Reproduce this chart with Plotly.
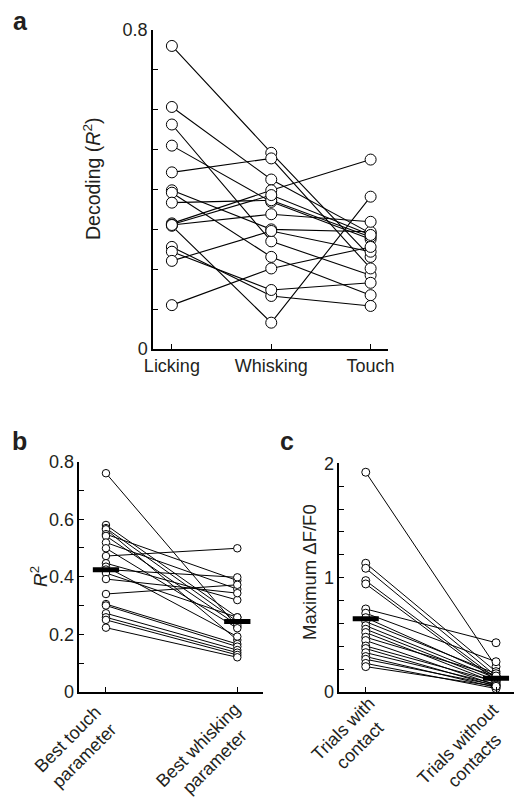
import plotly.graph_objects as go

# ---------------- data ----------------
# Panel a: decoding R^2 per cell (Licking -> Whisking -> Touch)
a_categories = ["Licking", "Whisking", "Touch"]
a_licking = [0.760, 0.607, 0.563, 0.510, 0.443, 0.398, 0.392, 0.367,
             0.315, 0.312, 0.309, 0.311, 0.256, 0.244, 0.221, 0.110]
a_whisking = [0.492, 0.425, 0.270, 0.369, 0.478, 0.300, 0.231, 0.373,
              0.398, 0.386, 0.066, 0.338, 0.133, 0.148, 0.296, 0.202]
a_touch = [0.231, 0.290, 0.185, 0.275, 0.202, 0.294, 0.135, 0.281,
           0.475, 0.286, 0.382, 0.319, 0.108, 0.166, 0.244, 0.256]

# Panel b: R^2 of best touch vs best whisking parameter
b_categories = ["Best touch<br>parameter", "Best whisking<br>parameter"]
b_touch = [0.760, 0.580, 0.569, 0.565, 0.548, 0.542, 0.519, 0.499, 0.472,
           0.447, 0.435, 0.425, 0.413, 0.392, 0.340, 0.305, 0.300, 0.273,
           0.259, 0.250, 0.223]
b_whisking = [0.226, 0.259, 0.244, 0.180, 0.387, 0.232, 0.357, 0.221, 0.499,
              0.319, 0.192, 0.398, 0.259, 0.343, 0.372, 0.166, 0.157, 0.145,
              0.136, 0.128, 0.120]
b_means = [0.424, 0.244]

# Panel c: maximum dF/F0 with vs without contacts
c_categories = ["Trials with<br>contact", "Trials without<br>contacts"]
c_with = [1.922, 1.126, 1.082, 0.974, 0.945, 0.726, 0.689, 0.650, 0.615,
          0.580, 0.549, 0.520, 0.479, 0.450, 0.402, 0.380, 0.344, 0.310,
          0.286, 0.250, 0.222]
c_without = [0.221, 0.178, 0.140, 0.120, 0.100, 0.431, 0.265, 0.140, 0.160,
             0.120, 0.100, 0.080, 0.140, 0.060, 0.090, 0.050, 0.070, 0.040,
             0.060, 0.030, 0.050]
c_means = [0.64, 0.12]

# tick values / labels
a_ytickvals = [0, 0.8]
a_yticktext = ["0", "0.8"]
a_yminor = [0.1, 0.2, 0.3, 0.4, 0.5, 0.6, 0.7]
b_ytickvals = [0, 0.2, 0.4, 0.6, 0.8]
b_yticktext = ["0", "0.2", "0.4", "0.6", "0.8"]
b_yminor = [0.1, 0.3, 0.5, 0.7]
c_ytickvals = [0, 1, 2]
c_yticktext = ["0", "1", "2"]
c_yminor = [0.2, 0.4, 0.6, 0.8, 1.2, 1.4, 1.6, 1.8]

# ---------------- figure ----------------
W, H = 514, 801
FONT = "Liberation Sans, Arial, sans-serif"
TXT = "#231f20"
TICK_SIZE = 18

fig = go.Figure()


def add_panel(series, xref, yref, msize, lw, means=None, bar_half=0.1):
    n = len(series[0])
    xs = list(range(1, len(series) + 1))
    for i in range(n):
        fig.add_trace(go.Scatter(
            x=xs, y=[s[i] for s in series], mode="lines",
            line=dict(color="black", width=lw), xaxis=xref, yaxis=yref,
            hoverinfo="skip", cliponaxis=False))
    for j, s in enumerate(series):
        fig.add_trace(go.Scatter(
            x=[j + 1] * len(s), y=s, mode="markers",
            marker=dict(size=msize, color="white",
                        line=dict(color="black", width=1)),
            xaxis=xref, yaxis=yref, cliponaxis=False))
    if means is not None:
        for j, m in enumerate(means):
            fig.add_trace(go.Scatter(
                x=[j + 1 - bar_half, j + 1 + bar_half], y=[m, m],
                mode="lines", line=dict(color="black", width=5),
                xaxis=xref, yaxis=yref, cliponaxis=False))


add_panel([a_licking, a_whisking, a_touch], "x", "y", 11, 1.1)
add_panel([b_touch, b_whisking], "x2", "y2", 7.5, 1, b_means, 0.1)
add_panel([c_with, c_without], "x3", "y3", 8, 1, c_means, 0.1)


def px_x(p):
    return p / W


def px_y(p):
    return 1 - p / H


axis_common = dict(showline=True, linecolor="black", linewidth=1.5,
                   ticks="inside", ticklen=5, tickcolor="black",
                   showgrid=False, zeroline=False, automargin=False,
                   ticklabeloverflow="allow",
                   tickfont=dict(family=FONT, size=TICK_SIZE, color=TXT))


def minor(vals):
    return dict(tickvals=vals, ticks="inside", ticklen=5, tickcolor="black",
                showgrid=False)


fig.update_layout(
    template="none",
    width=W, height=H, margin=dict(l=0, r=0, t=0, b=0, pad=0),
    paper_bgcolor="white", plot_bgcolor="white", showlegend=False,
    font=dict(family=FONT, color=TXT, size=TICK_SIZE),
    xaxis=dict(axis_common, domain=[px_x(153), px_x(388)], range=[0.81, 3.175],
               tickvals=[1, 2, 3], ticktext=a_categories, anchor="y"),
    yaxis=dict(axis_common, domain=[px_y(349), px_y(30)], range=[0, 0.8],
               tickvals=a_ytickvals, ticktext=a_yticktext, minor=minor(a_yminor),
               anchor="x"),
    xaxis2=dict(axis_common, domain=[px_x(79.3), px_x(263.3)], range=[0.797, 2.198],
                tickvals=[1, 2], showticklabels=False,
                anchor="y2", linewidth=2),
    yaxis2=dict(axis_common, domain=[px_y(691.8), px_y(461.7)], range=[0, 0.8],
                tickvals=b_ytickvals, ticktext=b_yticktext, minor=minor(b_yminor),
                anchor="x2"),
    xaxis3=dict(axis_common, domain=[px_x(339.3), 1.0], range=[0.797, 2.138],
                tickvals=[1, 2], showticklabels=False,
                anchor="y3", linewidth=2),
    yaxis3=dict(axis_common, domain=[px_y(692), px_y(463.3)], range=[0, 2],
                tickvals=c_ytickvals, ticktext=c_yticktext, minor=minor(c_yminor),
                anchor="x3"),
)

annots = [
    dict(text="<b>a</b>", x=px_x(20), y=px_y(21), size=25, angle=0),
    dict(text="<b>b</b>", x=px_x(19), y=px_y(441), size=25, angle=0),
    dict(text="<b>c</b>", x=px_x(287), y=px_y(441), size=25, angle=0),
    dict(text="Decoding (<i>R</i><sup>2</sup>)", x=px_x(92), y=px_y(179), size=19.5, angle=-90),
    dict(text="<i>R</i><sup>2</sup>", x=px_x(39), y=px_y(577), size=19, angle=-90),
    dict(text="Maximum \u0394F/F0", x=px_x(309), y=px_y(572), size=18.5, angle=-90),
]
for a in annots:
    fig.add_annotation(text=a["text"], x=a["x"], y=a["y"], xref="paper", yref="paper",
                       showarrow=False, textangle=a["angle"], xanchor="center",
                       yanchor="middle",
                       font=dict(family=FONT, size=a["size"], color=TXT))

# rotated, centre-aligned category labels under panels b and c
cat_labels = [
    (b_categories[0], "x2", 1, -30.5, 747),
    (b_categories[1], "x2", 2, -31.3, 753),
    (c_categories[0], "x3", 1, -15.0, 737),
    (c_categories[1], "x3", 2, -30.5, 752),
]
for text, xref, xv, dx, ypx in cat_labels:
    fig.add_annotation(text=text, x=xv, xref=xref, xshift=dx, y=px_y(ypx), yref="paper",
                       showarrow=False, textangle=-45, align="center",
                       xanchor="center", yanchor="middle",
                       font=dict(family=FONT, size=TICK_SIZE, color=TXT))

fig.write_html("out.html", config={"displayModeBar": False},
               post_script="document.body.style.margin='0';document.body.style.overflow='hidden';")
